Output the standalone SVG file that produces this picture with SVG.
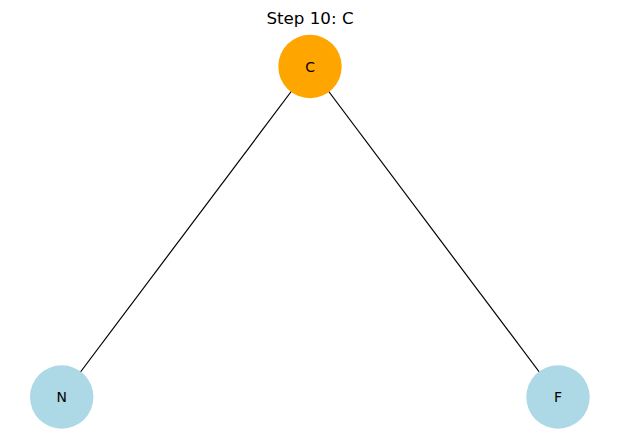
<svg xmlns="http://www.w3.org/2000/svg" width="619" height="442" viewBox="0 0 619 442">
<style>
.lbl{font-family:"DejaVu Sans",sans-serif;font-size:13.9px;text-anchor:middle;dominant-baseline:central;fill:#000}
.edge{stroke:#000;stroke-width:1.2;fill:none}
</style>
<rect width="619" height="442" fill="#fff"/>
<text x="310" y="18" font-family="DejaVu Sans, sans-serif" font-size="16.7" text-anchor="middle" dominant-baseline="central">Step 10: C</text>
<g id="connectors">
<line class="edge" x1="310" y1="66.5" x2="61.7" y2="397"/>
<line class="edge" x1="310" y1="66.5" x2="558" y2="397"/>
</g>
<g id="node-C"><circle cx="310" cy="66.5" r="31.7" fill="#FFA500"/><text class="lbl" x="310" y="66.5">C</text></g>
<g id="node-N"><circle cx="61.7" cy="397" r="31.7" fill="#ADD8E6"/><text class="lbl" x="61.7" y="397">N</text></g>
<g id="node-F"><circle cx="558" cy="397" r="31.7" fill="#ADD8E6"/><text class="lbl" x="558" y="397">F</text></g>
</svg>
